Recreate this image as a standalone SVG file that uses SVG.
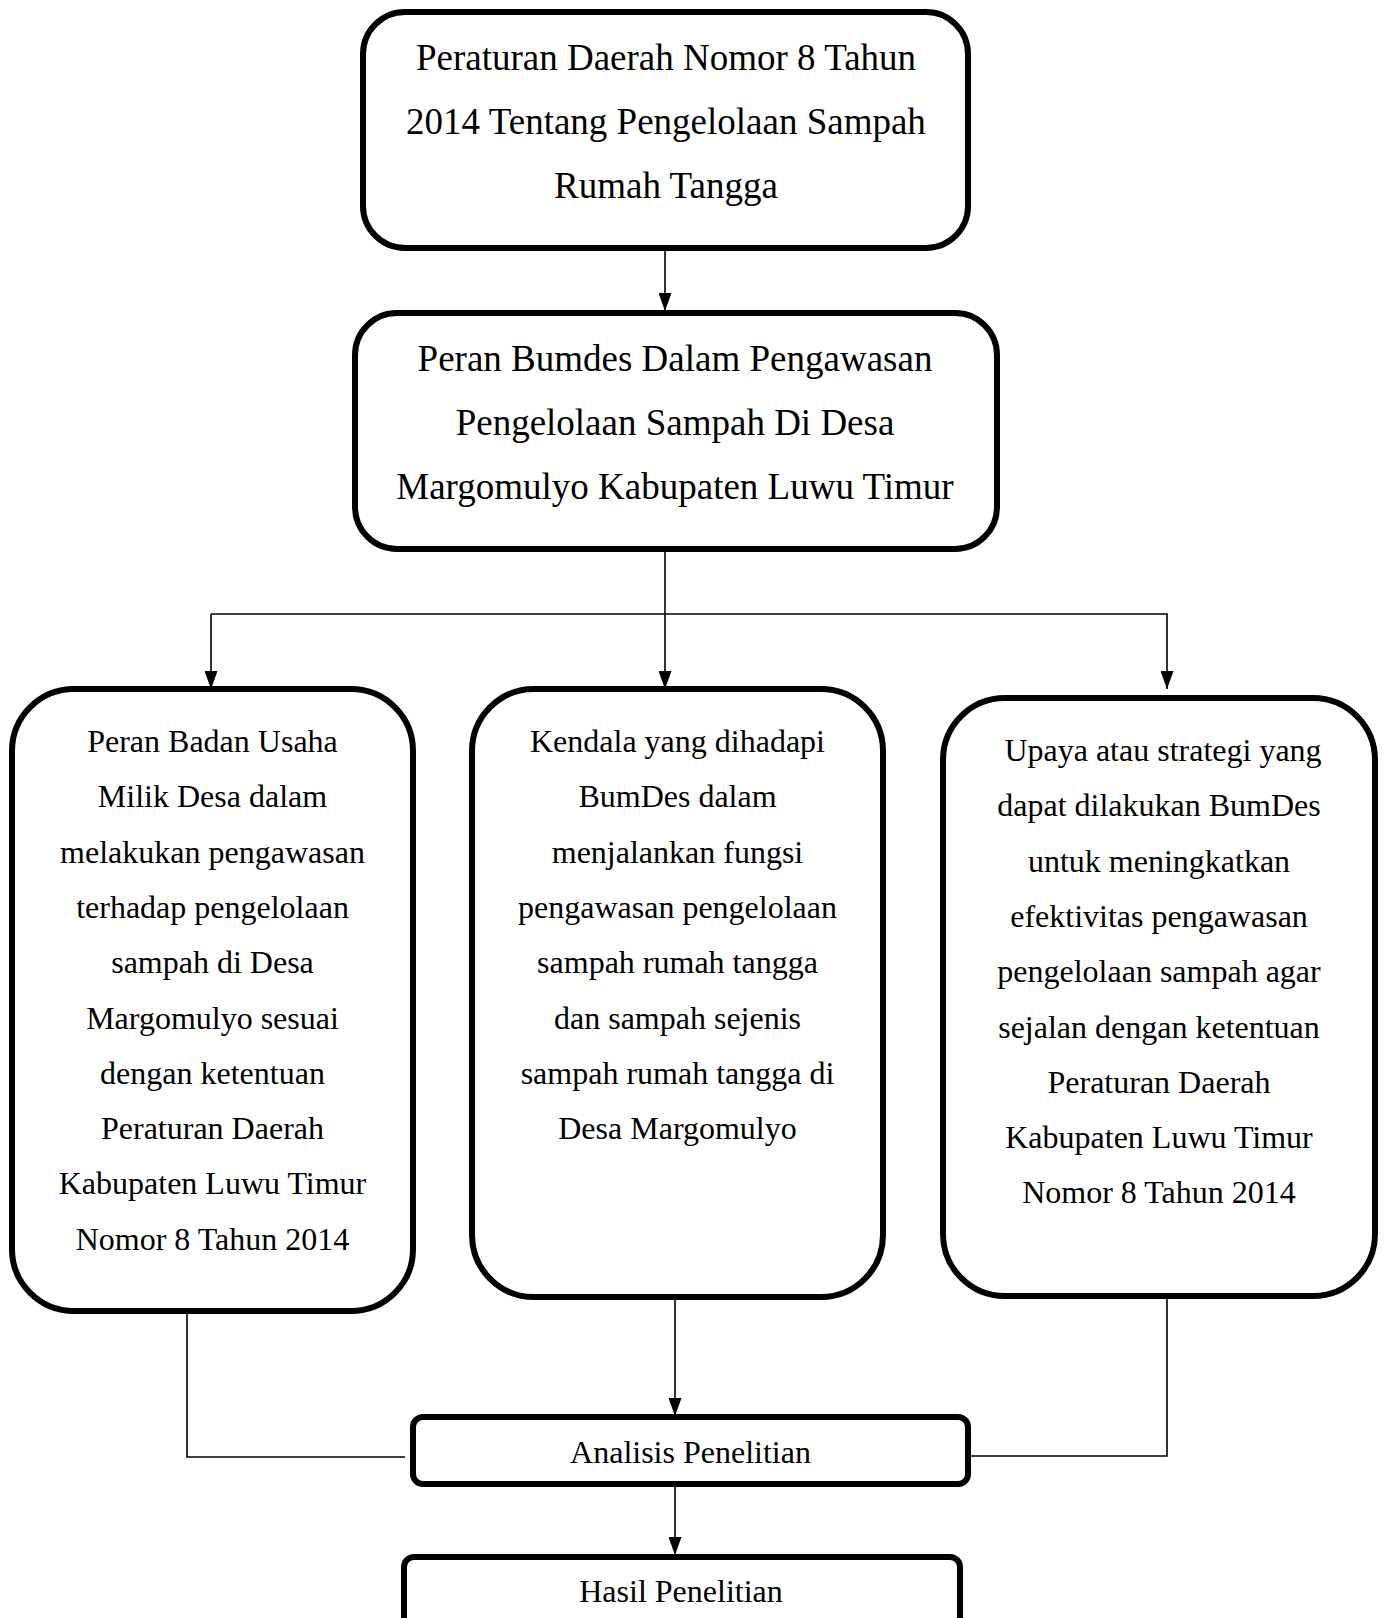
<svg xmlns="http://www.w3.org/2000/svg" width="1384" height="1618" viewBox="0 0 1384 1618">
<style>
.box{fill:#fff;stroke:#000;stroke-width:6}
.ln{fill:none;stroke:#000;stroke-width:1.6}
.t{font-family:"Liberation Serif","Times New Roman",serif;fill:#000;text-anchor:middle}
.big{font-size:37px}
.sm{font-size:32px}
</style>
<defs>
<marker id="arr" markerUnits="userSpaceOnUse" markerWidth="18" markerHeight="13" refX="18" refY="6.5" orient="auto">
<path d="M0,0 L18,6.5 L0,13 z" fill="#000"/>
</marker>
</defs>
<rect width="1384" height="1618" fill="#fff"/>
<g id="connectors">
<line class="ln" x1="665" y1="248" x2="665" y2="311" marker-end="url(#arr)"/>
<line class="ln" x1="665" y1="549" x2="665" y2="689" marker-end="url(#arr)"/>
<polyline class="ln" points="211,614 1167,614 1167,689" marker-end="url(#arr)"/>
<line class="ln" x1="211" y1="614" x2="211" y2="689" marker-end="url(#arr)"/>
<polyline class="ln" points="187,1311 187,1457 405,1457"/>
<line class="ln" x1="675" y1="1297" x2="675" y2="1416" marker-end="url(#arr)"/>
<polyline class="ln" points="1167,1296 1167,1456 958,1456"/>
<line class="ln" x1="675" y1="1484" x2="675" y2="1555" marker-end="url(#arr)"/>
</g>
<g id="n1">
<rect class="box" x="363" y="12" width="605" height="236" rx="42"/>
<text class="t big" x="666" y="70">Peraturan Daerah Nomor 8 Tahun</text>
<text class="t big" x="666" y="134">2014 Tentang Pengelolaan Sampah</text>
<text class="t big" x="666" y="198">Rumah Tangga</text>
</g>
<g id="n2">
<rect class="box" x="355" y="313" width="642" height="236" rx="42"/>
<text class="t big" x="675" y="371">Peran Bumdes Dalam Pengawasan</text>
<text class="t big" x="675" y="435">Pengelolaan Sampah Di Desa</text>
<text class="t big" x="675" y="499">Margomulyo Kabupaten Luwu Timur</text>
</g>
<g id="n3">
<rect class="box" x="12" y="689" width="401" height="622" rx="62"/>
<text class="t sm" x="212.5" y="752">Peran Badan Usaha</text>
<text class="t sm" x="212.5" y="807.3">Milik Desa dalam</text>
<text class="t sm" x="212.5" y="862.6">melakukan pengawasan</text>
<text class="t sm" x="212.5" y="917.9">terhadap pengelolaan</text>
<text class="t sm" x="212.5" y="973.2">sampah di Desa</text>
<text class="t sm" x="212.5" y="1028.5">Margomulyo sesuai</text>
<text class="t sm" x="212.5" y="1083.8">dengan ketentuan</text>
<text class="t sm" x="212.5" y="1139.1">Peraturan Daerah</text>
<text class="t sm" x="212.5" y="1194.4">Kabupaten Luwu Timur</text>
<text class="t sm" x="212.5" y="1249.7">Nomor 8 Tahun 2014</text>
</g>
<g id="n4">
<rect class="box" x="472" y="689" width="411" height="608" rx="62"/>
<text class="t sm" x="677.5" y="752">Kendala yang dihadapi</text>
<text class="t sm" x="677.5" y="807.3">BumDes dalam</text>
<text class="t sm" x="677.5" y="862.6">menjalankan fungsi</text>
<text class="t sm" x="677.5" y="917.9">pengawasan pengelolaan</text>
<text class="t sm" x="677.5" y="973.2">sampah rumah tangga</text>
<text class="t sm" x="677.5" y="1028.5">dan sampah sejenis</text>
<text class="t sm" x="677.5" y="1083.8">sampah rumah tangga di</text>
<text class="t sm" x="677.5" y="1139.1">Desa Margomulyo</text>
</g>
<g id="n5">
<rect class="box" x="943" y="698" width="432" height="598" rx="62"/>
<text class="t sm" x="1163" y="761">Upaya atau strategi yang</text>
<text class="t sm" x="1159" y="816.3">dapat dilakukan BumDes</text>
<text class="t sm" x="1159" y="871.6">untuk meningkatkan</text>
<text class="t sm" x="1159" y="926.9">efektivitas pengawasan</text>
<text class="t sm" x="1159" y="982.2">pengelolaan sampah agar</text>
<text class="t sm" x="1159" y="1037.5">sejalan dengan ketentuan</text>
<text class="t sm" x="1159" y="1092.8">Peraturan Daerah</text>
<text class="t sm" x="1159" y="1148.1">Kabupaten Luwu Timur</text>
<text class="t sm" x="1159" y="1203.4">Nomor 8 Tahun 2014</text>
</g>
<g id="n6">
<rect class="box" x="413" y="1417" width="555" height="67" rx="10"/>
<text class="t sm" x="690.5" y="1463">Analisis Penelitian</text>
</g>
<g id="n7">
<rect class="box" x="404" y="1557" width="556" height="90" rx="10"/>
<text class="t sm" x="681" y="1602">Hasil Penelitian</text>
</g>
</svg>
